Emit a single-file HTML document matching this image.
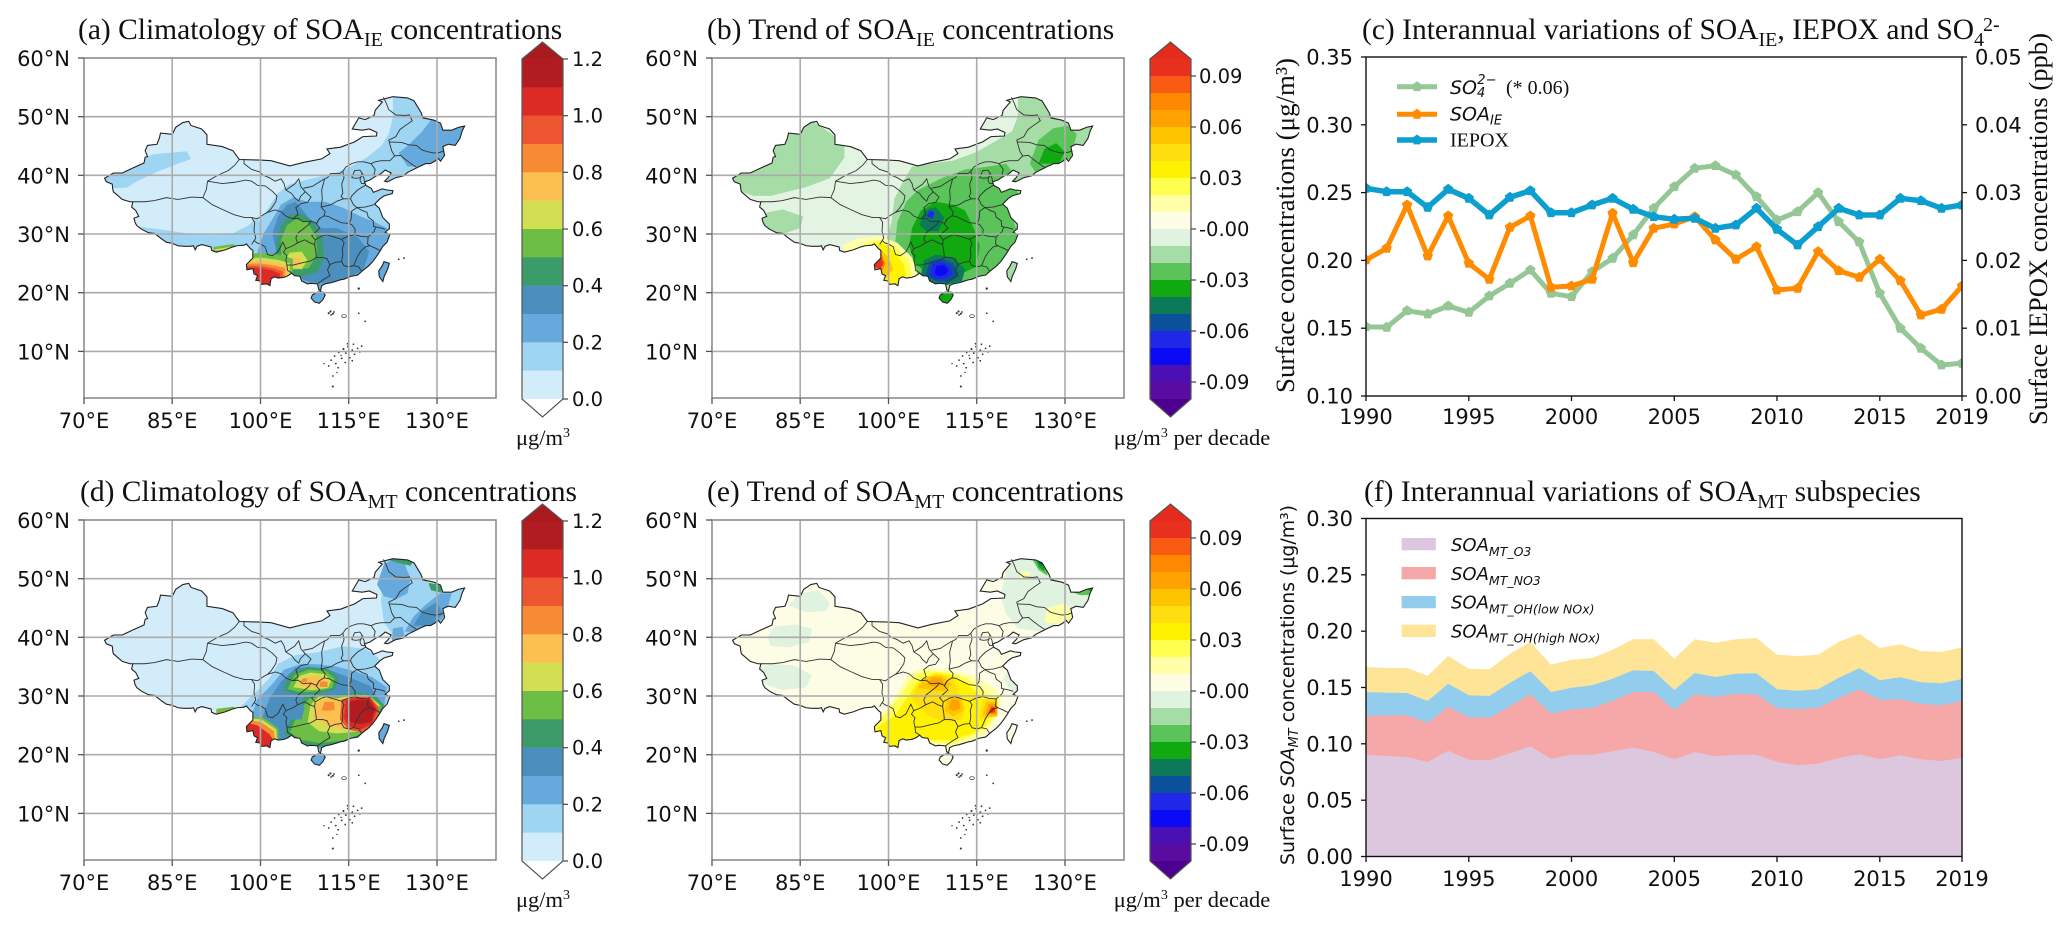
<!DOCTYPE html>
<html><head><meta charset="utf-8"><style>
html,body{margin:0;padding:0;background:#fff;}
svg{display:block;}
.t{font-family:"Liberation Serif","Times New Roman",serif;font-size:29.5px;fill:#111;}
.tk{font-family:"DejaVu Sans","Liberation Sans",sans-serif;font-size:21px;fill:#111;}
.cb{font-family:"DejaVu Sans","Liberation Sans",sans-serif;font-size:19.5px;fill:#111;}
.sf{font-family:"Liberation Serif","Times New Roman",serif;fill:#111;}
.ss{font-family:"DejaVu Sans","Liberation Sans",sans-serif;fill:#111;}
#cn,#prov polyline{vector-effect:non-scaling-stroke;}
</style></head><body>
<svg width="2067" height="932" viewBox="0 0 2067 932" xmlns="http://www.w3.org/2000/svg">
<defs>
<path id="cn" d="M73.5,39.5 L75,40.4 76.5,40.4 78.2,41.2 80.2,42.1 80.4,43.1 80.8,43.2 80.4,44.2 80.8,45.1 82.4,45.3 82.8,46.3 83,47.2 85,47 85.6,48.2 86.8,49 87.8,49.2 88.2,48.5 90,47.9 90.9,46.9 90.9,45.3 93.5,44.9 95.3,44.2 96.4,42.7 100,42.6 101.8,42.5 105,41.6 107.3,42.2 110.4,42.8 111.8,43.7 111.3,44.5 113.6,44.8 116,45.7 117.4,46.6 119.7,46.7 119.8,47.3 118.5,47.9 117.3,47.7 115.6,47.9 116.7,49.8 117.8,49.5 119.3,50.2 119.5,51.1 120.7,52.5 120.1,52.8 122.5,53.4 125,53.2 126.1,52.7 127.3,50.7 127.6,49.8 129.5,49.4 130.6,48.9 131,47.7 132.5,47.7 133.7,48.2 134.7,48.4 134.3,47.6 133.9,46.3 133.1,45.1 131.9,45.3 131,44.9 131.3,43.4 130.6,42.4 130.2,42.9 129.6,42.4 128.9,42 128.1,42 127,41.5 126.2,41.1 125,40.5 124.3,39.9 123,39.6 121.6,38.9 121.1,39 121.7,39.6 122.2,40.4 121.2,40.9 120.5,40.3 119.5,39.8 118.6,39.2 117.7,38.9 117.9,38.3 118.8,37.8 119.2,37.1 120.7,37.7 121.5,37.5 122.5,37.4 122.4,36.9 121,36.5 120.3,36 119.4,35.1 120.2,34.4 120.8,32.8 121.9,31.7 121.9,30.9 121.2,30.3 122,29.9 121.5,28.6 120.8,27.9 120.2,26.9 119.6,26 119,25.2 118.3,24.5 117.3,23.7 116.5,23 115.4,22.8 114.2,22.3 113.6,22.2 113,22 112,21.7 111,21.5 110.4,21.2 110.2,20.3 109.9,20.5 109.7,21.5 108.5,21.6 108,21.5 107,22 106.7,22.8 105.8,22.9 105.3,23.3 104.5,22.8 103.9,22.6 103,22.5 102.4,22.7 101.8,22.4 101.6,21.2 101.1,21.5 100.2,21.4 99.9,22 99.2,22.1 99.5,22.9 98.9,23.2 98.7,24.1 97.7,23.9 97.6,24.8 98.2,25.4 98.7,25.9 98.7,27.2 98.3,27.5 97.6,28.3 97.2,28.1 96,28 95.3,27.8 94,27.3 92.5,26.9 91.7,27.2 91.6,27.8 90,28.2 89.2,27.9 88.9,27.3 88.6,28 88.1,27.9 87,27.9 86,28 85,28.4 84,28.6 83,29.3 82,30.1 81,30.2 79.8,30.8 79,31.4 78.7,31.9 78.5,32.7 79.3,33 78.8,34 78.1,34.6 78.3,35.5 77.8,35.5 76.5,35.9 75.7,36.6 75,37.2 74.9,37.6 74.8,38.5 73.8,38.9 Z M108.6,19.1 L109.2,18.4 110,18.2 110.6,18.8 111,19.6 110.6,20.1 109.7,20.1 108.8,19.6 Z M121,25.3 L121.9,25 121.6,24 121,22.7 120.8,21.9 120.2,22.7 120.1,23.7 120.7,24.6 Z"/>
<clipPath id="cc"><use href="#cn"/></clipPath>
<g id="prov" fill="none">
<polyline points="78.3,35.5 80.3,35.5 82,35.7 84,36.2 86,35.9 88.3,36.3 90.2,36.2 90.8,37.6 91,39 92.7,40 94.5,40.8 95.6,41.7 96.4,42.7"/>
<polyline points="90.2,36.2 91.8,35 93.5,34.2 95.5,33.3 97.3,32.8 98.5,32.8 99,32 98.9,30.5 99.2,29.3 98.8,28.7 98.5,28.2"/>
<polyline points="91,39 93.5,38.6 95.5,38.8 97.5,39.2 98.5,39 99.5,38.3 100.8,38.2 102,37.3 102.8,36.5 102.6,35.5 101.8,34.3 101.2,33.7"/>
<polyline points="101.2,33.7 100.5,33.3 99.5,32.6 98.5,32.8"/>
<polyline points="101.2,33.7 102.5,34.1 103.5,33.8 104.4,33 105.5,32.6 106.4,33.3 106,34.5 106.9,35.2 108,35.4 108.6,36.3 107.6,37.2"/>
<polyline points="104.3,37.5 105.8,38.5 106.5,39.4 106.9,38 107.6,37.2 106.8,36.4 106.5,35.6 105.8,36.2 105.3,36.9 104.3,37.5"/>
<polyline points="97.2,42.8 97.2,42 98.5,41 99.8,40.6 100.5,40 101.5,39.6 102.5,39 103.5,39.4 104,38.6 104.3,37.5"/>
<polyline points="107.3,37.8 108.8,38.1 110.2,39 110.9,39.4 111.4,39.6 111.9,40.3 113.5,40.3 114,40.7 114.5,41.4 115.5,42 116.5,42.3 117.5,42.3 118.8,42 119.5,42.3 120.5,42.5 122,42.5 122.8,43.3 122.3,44.2 122,45.3 121.8,46 123,46.6 123.7,47.8 124.5,48.4 125.8,49.3 125.3,50.3 124.5,50.2 123,50.3 121.8,51.2 121.3,52.5 120.9,53.3"/>
<polyline points="121.9,45.7 124,45.6 125.2,45.2 126.5,45.1 127.5,44.3 128.5,44 129.5,43.8 130.5,43.9 131.2,44.2"/>
<polyline points="122.8,43.3 123.8,43.4 124.5,42.8 125.3,42.2 126,41.7 126.5,41.4"/>
<polyline points="118.8,42 119.5,41 119.3,40.2 119.7,39.9"/>
<polyline points="110.9,39.4 110.4,37.5 110.5,36 110.3,34.6"/>
<polyline points="114,40.7 114.2,39.6 113.8,38.5 114,37 113.7,36.4 114.1,36 113,35.6 112,35 110.3,34.6"/>
<polyline points="110.3,34.6 111,33.8 110.8,33.1 110,32.6 109.5,31.8 108.6,32.2 107.2,32.1 106.4,32.7 105.5,32.6"/>
<polyline points="117.8,38.3 116.5,37.5 115.5,36.5 115.3,36 114.1,36"/>
<polyline points="115.3,36 115.8,35 116.4,34.5 115.5,33.9 115.4,32.5 115,31.8 113.8,31.9 112.5,32.5 111.5,33 110.8,33.1"/>
<polyline points="119.3,35 117.8,34.6 116.4,34.5"/>
<polyline points="116.4,34.5 117.3,34 118.1,33.7 118.3,32.9 119.2,32.2 119.2,31.3 119.6,31.2 120.6,31 121.2,30.8"/>
<polyline points="119.6,31.2 119.3,30.4 118.3,29.5 117,29.6 116,29.9 116.1,30.8 115.5,31.6 115,31.8"/>
<polyline points="118.3,29.5 118.2,28.3 118.6,28 119.5,27.6 120.3,27.2"/>
<polyline points="118.6,28 117.8,27.8 117,27 116.4,26 116,25 115.8,24.6 116.7,24.4 117.2,23.6"/>
<polyline points="115.8,24.6 115,24.4 114.2,24.6 113.8,25.3 114,26.5 113.9,27.5 114.2,28.5 113.8,29.1 114.8,29.6 116,29.9"/>
<polyline points="113.8,29.1 112.5,29.5 111.2,29.9 110.3,29.6 109.3,29"/>
<polyline points="110,32.6 109.5,31.7 110.1,31 109.2,30.2 108.7,29.7 109.3,29"/>
<polyline points="109.3,29 109.2,28.2 109.4,27 109.5,26 110.5,26 111.3,25.8 111.8,24.8 112.8,25.2 113.8,25.3"/>
<polyline points="111.8,24.8 111.4,23.9 111.8,22.9 110.8,22.3 109.7,21.5"/>
<polyline points="109.5,26 108.5,25.4 107.5,25.2 106.3,24.9 105.5,24.7 104.5,24.7 104.6,23.8 105.4,23.3"/>
<polyline points="104.5,24.7 104.3,25.6 104.5,26.3 103.9,26.9 104.3,27.5 105.5,28 106.3,28.5 107.5,29 108.4,28.5 109.2,28.2"/>
<polyline points="104.3,27.5 103.8,28.6 103,27 102,26.3 101.2,26.5 100.8,27.8 100.2,28.2 99.4,28.5 98.9,28.9"/>
<polyline points="106.3,28.5 106,29.3 106.4,30.2 107.3,30.9 108.2,31.6 108.6,32.2"/>
<polyline points="115.5,39.6 116,40.8 116.9,40.9 117.4,40.2 117,39.6 116.2,39.5 115.5,39.6"/>
<polyline points="116.9,39.2 117.2,40.2 117.6,39.5 117.7,38.6 117.2,38.6 116.9,39.2"/>
</g>
<g id="isl" fill="#333">
<circle cx="111.6" cy="16.5" r="0.18"/><circle cx="111.9" cy="16.8" r="0.18"/><circle cx="112.3" cy="16.4" r="0.18"/><circle cx="112" cy="16.2" r="0.15"/><circle cx="112.5" cy="16.7" r="0.15"/>
<ellipse cx="114.2" cy="16" rx="0.4" ry="0.25" fill="none" stroke="#333" stroke-width="0.12"/>
<circle cx="116.7" cy="16.5" r="0.15"/><circle cx="117.8" cy="15.1" r="0.15"/><circle cx="116.7" cy="20.7" r="0.2"/>
<circle cx="112" cy="8.5" r="0.15"/><circle cx="112.6" cy="9.2" r="0.15"/><circle cx="113.3" cy="9.8" r="0.15"/><circle cx="114.1" cy="10.4" r="0.18"/><circle cx="114.5" cy="9.7" r="0.15"/><circle cx="114.9" cy="10.8" r="0.18"/><circle cx="115.6" cy="10.2" r="0.15"/><circle cx="116" cy="9.5" r="0.15"/><circle cx="115.2" cy="8.9" r="0.15"/><circle cx="113.8" cy="8.8" r="0.15"/><circle cx="114.4" cy="8.1" r="0.15"/><circle cx="115.6" cy="8.4" r="0.15"/><circle cx="116.5" cy="10.5" r="0.15"/><circle cx="117.2" cy="10.9" r="0.15"/><circle cx="112.8" cy="7.9" r="0.15"/><circle cx="111.6" cy="7.5" r="0.15"/><circle cx="113.2" cy="7.2" r="0.15"/><circle cx="114.8" cy="11.3" r="0.15"/><circle cx="115.8" cy="11.2" r="0.15"/><circle cx="116.9" cy="9.9" r="0.15"/><circle cx="113.7" cy="9.3" r="0.12"/><circle cx="115.1" cy="9.9" r="0.12"/><circle cx="112.3" cy="5.8" r="0.15"/><circle cx="112.3" cy="4" r="0.18"/><circle cx="113" cy="6.4" r="0.12"/><circle cx="110.8" cy="7.9" r="0.12"/><circle cx="123.5" cy="25.7" r="0.15"/><circle cx="124.4" cy="25.9" r="0.15"/>
</g>
<g id="mf">
<g stroke="#ababab" stroke-width="1.6">
<line x1="88.2" y1="0" x2="88.2" y2="340"/><line x1="176.5" y1="0" x2="176.5" y2="340"/><line x1="264.7" y1="0" x2="264.7" y2="340"/><line x1="353" y1="0" x2="353" y2="340"/>
<line x1="0" y1="58.7" x2="412" y2="58.7"/><line x1="0" y1="117.3" x2="412" y2="117.3"/><line x1="0" y1="176" x2="412" y2="176"/><line x1="0" y1="234.7" x2="412" y2="234.7"/><line x1="0" y1="293.4" x2="412" y2="293.4"/>
</g>
<rect x="0" y="0" width="412" height="340" fill="none" stroke="#8c8c8c" stroke-width="1.6"/>
<g stroke="#555" stroke-width="1.3">
<line x1="-6" y1="0" x2="0" y2="0"/><line x1="-6" y1="58.7" x2="0" y2="58.7"/><line x1="-6" y1="117.3" x2="0" y2="117.3"/><line x1="-6" y1="176" x2="0" y2="176"/><line x1="-6" y1="234.7" x2="0" y2="234.7"/><line x1="-6" y1="293.4" x2="0" y2="293.4"/>
<line x1="0" y1="340" x2="0" y2="346"/><line x1="88.2" y1="340" x2="88.2" y2="346"/><line x1="176.5" y1="340" x2="176.5" y2="346"/><line x1="264.7" y1="340" x2="264.7" y2="346"/><line x1="353" y1="340" x2="353" y2="346"/>
</g>
</g>
<g id="cbA">
<polygon points="522,59 542.5,42 563,59" fill="#a81a1e"/>
<rect x="522" y="59" width="41" height="28.6" fill="#b01c20"/>
<rect x="522" y="87.3" width="41" height="28.6" fill="#dc2b25"/>
<rect x="522" y="115.7" width="41" height="28.6" fill="#ec5530"/>
<rect x="522" y="144" width="41" height="28.6" fill="#f68b33"/>
<rect x="522" y="172.3" width="41" height="28.6" fill="#fbc050"/>
<rect x="522" y="200.7" width="41" height="28.6" fill="#d3de53"/>
<rect x="522" y="229" width="41" height="28.6" fill="#6cbe45"/>
<rect x="522" y="257.3" width="41" height="28.6" fill="#3c9c69"/>
<rect x="522" y="285.7" width="41" height="28.6" fill="#4a8fbd"/>
<rect x="522" y="314" width="41" height="28.6" fill="#66a9dc"/>
<rect x="522" y="342.3" width="41" height="28.6" fill="#9dd5f3"/>
<rect x="522" y="370.7" width="41" height="28.3" fill="#d3ecfa"/>
<polygon points="522,399 542.5,417 563,399" fill="#fff"/>
<polygon points="522,59 542.5,42 563,59 563,399 542.5,417 522,399" fill="none" stroke="#555" stroke-width="1.2"/>
<g stroke="#444" stroke-width="1.2"><line x1="563" y1="59" x2="568" y2="59"/><line x1="563" y1="115.7" x2="568" y2="115.7"/><line x1="563" y1="172.3" x2="568" y2="172.3"/><line x1="563" y1="229" x2="568" y2="229"/><line x1="563" y1="285.7" x2="568" y2="285.7"/><line x1="563" y1="342.3" x2="568" y2="342.3"/><line x1="563" y1="399" x2="568" y2="399"/></g>
</g>
<g id="cbB">
<polygon points="1150,59 1170.5,42 1191,59" fill="#e52a1e"/>
<rect x="1150" y="59" width="41" height="17.3" fill="#e8301e"/>
<rect x="1150" y="76" width="41" height="17.3" fill="#fb5a14"/>
<rect x="1150" y="93" width="41" height="17.3" fill="#ff8800"/>
<rect x="1150" y="110" width="41" height="17.3" fill="#ffa200"/>
<rect x="1150" y="127" width="41" height="17.3" fill="#ffc400"/>
<rect x="1150" y="144" width="41" height="17.3" fill="#ffde10"/>
<rect x="1150" y="161" width="41" height="17.3" fill="#fff200"/>
<rect x="1150" y="178" width="41" height="17.3" fill="#ffff50"/>
<rect x="1150" y="195" width="41" height="17.3" fill="#ffffa8"/>
<rect x="1150" y="212" width="41" height="17.3" fill="#fdfde6"/>
<rect x="1150" y="229" width="41" height="17.3" fill="#e0f2e0"/>
<rect x="1150" y="246" width="41" height="17.3" fill="#a6dca6"/>
<rect x="1150" y="263" width="41" height="17.3" fill="#5ac35a"/>
<rect x="1150" y="280" width="41" height="17.3" fill="#10aa10"/>
<rect x="1150" y="297" width="41" height="17.3" fill="#0c7a5a"/>
<rect x="1150" y="314" width="41" height="17.3" fill="#0b509a"/>
<rect x="1150" y="331" width="41" height="17.3" fill="#1e28e6"/>
<rect x="1150" y="348" width="41" height="17.3" fill="#0a0af5"/>
<rect x="1150" y="365" width="41" height="17.3" fill="#4b10b4"/>
<rect x="1150" y="382" width="41" height="17" fill="#5a0ca0"/>
<polygon points="1150,399 1170.5,417 1191,399" fill="#4b0090"/>
<polygon points="1150,59 1170.5,42 1191,59 1191,399 1170.5,417 1150,399" fill="none" stroke="#555" stroke-width="1.2"/>
<g stroke="#444" stroke-width="1.2"><line x1="1191" y1="76" x2="1196" y2="76"/><line x1="1191" y1="127" x2="1196" y2="127"/><line x1="1191" y1="178" x2="1196" y2="178"/><line x1="1191" y1="229" x2="1196" y2="229"/><line x1="1191" y1="280" x2="1196" y2="280"/><line x1="1191" y1="331" x2="1196" y2="331"/><line x1="1191" y1="382" x2="1196" y2="382"/></g>
</g>
<marker id="mG" viewBox="-6 -6 12 12" markerWidth="12" markerHeight="12" markerUnits="userSpaceOnUse" refX="0" refY="0"><polygon points="0,-5.5 5.2,-1.7 3.2,4.4 -3.2,4.4 -5.2,-1.7" fill="#95c695"/></marker>
<marker id="mO" viewBox="-6 -6 12 12" markerWidth="12" markerHeight="12" markerUnits="userSpaceOnUse" refX="0" refY="0"><polygon points="0,-5.5 5.2,-1.7 3.2,4.4 -3.2,4.4 -5.2,-1.7" fill="#ff8c00"/></marker>
<marker id="mB" viewBox="-6 -6 12 12" markerWidth="12" markerHeight="12" markerUnits="userSpaceOnUse" refX="0" refY="0"><polygon points="0,-5.5 5.2,-1.7 3.2,4.4 -3.2,4.4 -5.2,-1.7" fill="#0c9ecf"/></marker>
<clipPath id="axc"><rect x="1366" y="57" width="596" height="339"/></clipPath>
</defs>

<!-- ===== Panel (a) ===== -->
<text class="t" x="78" y="39">(a) Climatology of SOA<tspan dy="7" font-size="20">IE</tspan><tspan dy="-7"> concentrations</tspan></text>
<g transform="translate(84,58) scale(5.883,-5.867) translate(-70,-60)">
<g clip-path="url(#cc)">
<rect x="60" y="0" width="80" height="60" fill="#d3ecfa"/>
<polygon fill="#9dd5f3" points="73,39 75,40.4 78,42 81.8,43.6 87.5,44.1 88.2,42.8 86,42 82.4,40.6 79,39 77.3,37.9 74.5,37.8"/>
<polygon fill="#9dd5f3" points="77,32 79,31.3 83,30.8 87.5,30.1 92,29.8 95.5,30.2 98,31.5 99.5,33 100,30 99,26 77,26"/>
<polygon fill="#9dd5f3" points="97.5,28 99,31 101,34 103,37 105,38.5 108,39.3 112,40.2 115,41.3 118,43 120.5,45 121.8,47 122.5,50 122.5,53.5 136,54 136,17 97.5,17"/>
<polygon fill="#66a9dc" points="99.5,27 100.5,30 102,32.5 103.5,35 105.5,36.2 108,35.5 111,35.5 114,34.5 117,33 119.5,32 121.5,31 122.5,28 120,24 116,21 111.5,17.5 108,17.5 103,21 100.5,24.5"/>
<polygon fill="#66a9dc" points="119.5,21.5 122.5,21.5 122.5,25.8 119.5,25.8"/>
<polygon fill="#66a9dc" points="123.5,43.8 125.5,45.5 127.5,47.5 129,49.5 133,48.8 135.5,48.5 135.5,44 131,42.5 128,41.5 125,41.5"/>
<polygon fill="#4a8fbd" points="102,30 103,33 104.5,35 106,35.5 108,33 110,31 113,31 116.5,29.5 118.5,27 117.5,24 115,22.5 111,21.5 108.5,21.8 105,23 103,26"/>
<polygon fill="#3c9c69" points="102.8,29 103.5,31.5 105,33.3 107,33.5 109,32 110.5,29.5 110.8,26 109.8,23.5 107,22.8 104,23 102.5,25.5"/>
<polygon fill="#6cbe45" points="103.5,29 104.5,31.5 106,32.5 108,32 109.5,29.5 109.6,26.5 108.2,24.2 105,23.8 103.5,26"/>
<polygon fill="#d3de53" points="104.2,24.2 104,25.5 105,26.8 107,27 108,25.5 107,24"/>
<polygon fill="#fbc050" points="105,24.6 105.3,25.8 106.5,26 107,25 106,24.4"/>
<polygon fill="#6cbe45" points="96.5,26.4 100,26.8 103,26.5 105.5,25.8 105.5,20.5 96.5,20.5"/>
<polygon fill="#d3de53" points="96.5,25.7 100,26 103,25.6 105,25 105,20.5 96.5,20.5"/>
<polygon fill="#fbc050" points="96.5,25.3 100,25.4 103,25 104.6,24.6 104.6,20.5 96.5,20.5"/>
<polygon fill="#f68b33" points="96.5,24.9 100,25 102.5,24.6 104.2,24.2 104.2,20.5 96.5,20.5"/>
<polygon fill="#ec5530" points="96.5,24.6 100,24.6 102.5,24.1 103.8,23.6 103.8,20.5 96.5,20.5"/>
<polygon fill="#dc2b25" points="96.5,24.3 100,24.2 102,23.8 103.3,23.2 103.3,20.5 96.5,20.5"/>
<polygon fill="#6cbe45" points="92,27.8 95.5,28.3 96,27.5 95.5,26.5 92,26.5"/>
<polygon fill="#d3de53" points="92.3,27.4 94.8,27.8 95,26.5 92.3,26.5"/>
<polygon fill="#f68b33" points="92.4,27.2 94,27.3 94.2,26.5 92.4,26.5"/>
<polygon fill="#dc2b25" points="92.5,27.05 93.6,27.1 93.7,26.5 92.5,26.5"/>
</g>
<use href="#cn" fill="none" stroke="#222" stroke-width="1.1"/>
<use href="#prov" stroke="#333" stroke-width="0.9"/>
<use href="#isl"/>
</g>
<use href="#mf" x="84" y="58"/>
<use href="#cbA"/>

<!-- ===== Panel (b) ===== -->
<text class="t" x="707" y="39">(b) Trend of SOA<tspan dy="7" font-size="20">IE</tspan><tspan dy="-7"> concentrations</tspan></text>
<g transform="translate(712,58) scale(5.883,-5.867) translate(-70,-60)">
<g clip-path="url(#cc)">
<rect x="60" y="0" width="80" height="60" fill="#e4f4e2"/>
<polygon fill="#a6dca6" points="73,41 80,45 86,50 89,48 92.5,45.5 92.5,43 90,39.5 86,38 80,36.5 77,36.5 73,38"/>
<polygon fill="#a6dca6" points="78.5,33.5 82,34.2 85.5,33 85,31 82,30 79,30.5"/>
<polygon fill="#a6dca6" points="99,27 100.5,32 101,36 102.5,39 104,41.5 107,42 111,42.5 115,44 118.5,46 121,47.5 122,50 122,53.5 136,54 136,17 99,17"/>
<polygon fill="#5ac35a" points="101,27 101.5,32 103,35.5 105,37.5 109,39.5 113,41 117,41.5 120,42 121.5,40 122,37 121,33 122,30 120,25 114,22 108,21.5 104,23 102,25"/>
<polygon fill="#5ac35a" points="124,42 125.5,46 128,48 130.5,48.5 132,47 131,43 128,41.5 125,40.5"/>
<polygon fill="#10aa10" points="103.5,28 104,31 105.5,34 108,35.5 111,35 113,34 114.5,31 115.5,28 115,24.5 113,23.5 110,22.5 107,23 104.5,25"/>
<polygon fill="#10aa10" points="125.5,42 126.5,44.5 128.5,45.5 130,44 129,42"/>
<polygon fill="#10aa10" points="108,17.5 111.5,17.5 111.5,20.5 108,20.5"/>
<polygon fill="#0c7a5a" points="105.5,22.8 106,25.5 108,26.5 111,26 113,24 112.5,22 110,21.3 107,21.6"/>
<polygon fill="#0b509a" points="106.3,23 107,25.3 109,25.8 111,25 111.8,23 110,21.8 108,22"/>
<polygon fill="#1e28e6" points="107,23 107.5,25 109,25.3 110.5,24.5 110.8,23 109.5,22.3 108,22.3"/>
<polygon fill="#0a0af5" points="107.8,23.3 108.2,24.6 109.5,24.7 110.2,23.8 109.6,23 108.5,22.8"/>
<polygon fill="#0c7a5a" points="105.3,31.5 106,34 108,34.6 109.5,32.8 108.5,30.5 106.5,30.5"/>
<polygon fill="#1e28e6" points="106.5,33 107,34 107.8,33.7 107.5,32.6"/>
<polygon fill="#ffffa8" points="92,28 95,29.3 98.5,29.6 101.5,28.5 104,26 105,23 101.5,21 97,22.5"/>
<polygon fill="#ffff50" points="96,28.5 98.7,29 101,28 103.5,25.5 104,23 101,21 97,22.5"/>
<polygon fill="#fff200" points="97,28 99,28.3 100.5,27.5 102.5,25 103,23 101,21 97.5,22"/>
<polygon fill="#ffc400" points="97,27.2 98.8,27.3 100,26 100.8,24 99.5,22.5 97.5,23.5"/>
<polygon fill="#ff8800" points="97,26.5 98.8,26.6 99.5,25 99,23.8 97.5,24"/>
<polygon fill="#e8301e" points="97,26.3 98.5,26.4 99.2,25 98.6,24.1 97.5,24.4"/>
</g>
<use href="#cn" fill="none" stroke="#222" stroke-width="1.1"/>
<use href="#prov" stroke="#333" stroke-width="0.9"/>
<use href="#isl"/>
</g>
<use href="#mf" x="712" y="58"/>
<use href="#cbB"/>

<!-- ===== Panel (d) ===== -->
<text class="t" x="80" y="501">(d) Climatology of SOA<tspan dy="7" font-size="20">MT</tspan><tspan dy="-7"> concentrations</tspan></text>
<g transform="translate(84,520) scale(5.883,-5.867) translate(-70,-60)">
<g clip-path="url(#cc)">
<rect x="60" y="0" width="80" height="60" fill="#d3ecfa"/>
<polygon fill="#9dd5f3" points="96.5,28 99,30.5 101.5,33 103,35.5 106,37 110,37.5 114,38.5 118,38 120,36.5 122,33 122.5,28 119,23 112,17.5 108,17.5 105,21.5 100,21 97,23"/>
<polygon fill="#9dd5f3" points="120.5,46 121,53.5 127,53.5 128.5,49 131,48 135.5,48.5 135.5,42 131,41.5 126,40 122.5,40.5 121,42.5"/>
<polygon fill="#66a9dc" points="119.8,49 121,52.5 123,53.5 124.5,52.5 125.5,50 125,47.5 123,46.5 121,47"/>
<polygon fill="#66a9dc" points="124.5,41 126,43.5 128,45.5 130.5,47.5 132.5,47.5 131.5,44 130,42 127,40.8"/>
<polygon fill="#66a9dc" points="122.3,39 122.5,41.5 124.2,41.8 124.5,39.8"/>
<polygon fill="#4a8fbd" points="126,42 127.5,44.5 130,46 131,44 129,42"/>
<polygon fill="#3c9c69" points="121.5,53.3 124,53.6 126,53 125.5,52.2 123,52.8"/>
<polygon fill="#3c9c69" points="128.5,49.3 130.8,48.9 130.8,47.6 129,48"/>
<polygon fill="#66a9dc" points="98,25.5 99.5,29.5 102,32 104,34.5 107,35.5 110,35.4 113,35 116,34.2 119,33.2 121.5,31.5 121,28 118,24 112,20.5 106,21.8 101,22 98,23.5"/>
<polygon fill="#66a9dc" points="108,17.5 111.5,17.5 111.5,20.5 108,20.5"/>
<polygon fill="#66a9dc" points="119.5,21.5 122.5,21.5 122.5,25.8 119.5,25.8"/>
<polygon fill="#4a8fbd" points="100,25.5 101.5,29.5 103.5,32.5 106,34.8 109,34.9 112,34.3 115,33.2 118.5,31.8 120.5,29 118.5,25 114,22.3 109,21.8 104,22.3 100.5,23.5"/>
<!-- northern hotspot (Chongqing / W Hubei / S Shaanxi) -->
<polygon fill="#3c9c69" points="103.8,31 105,33.8 108,35 111.5,34.6 113.2,33.2 112.8,31.2 110,30.4 106.5,30.2"/>
<polygon fill="#6cbe45" points="104.6,31.2 105.8,33.6 108.2,34.5 111.2,34.2 112.6,33 112.2,31.4 109.8,30.8 106.8,30.6"/>
<polygon fill="#d3de53" points="105.6,31.5 106.6,33.4 108.5,34 111,33.7 112,32.6 111.5,31.4 108.8,31 "/>
<polygon fill="#fbc050" points="106.5,31.8 107.4,33.1 109.5,33.4 111.3,32.8 111.3,31.6 108.8,31.3"/>
<polygon fill="#f68b33" points="110,31.6 110.2,32.5 111.4,32.4 111.4,31.5"/>
<polygon fill="#f68b33" points="106.8,32.4 107.2,33 108,33 107.8,32.3"/>
<!-- southern hotspot -->
<polygon fill="#3c9c69" points="104,23.5 105.8,27.5 107.5,29.8 110,30.3 113,30.1 116,30.6 119,30.2 121,28.5 119.5,25 117,23 114,21.8 110,21.3 106.5,21.8"/>
<polygon fill="#6cbe45" points="105,23.8 106.5,27.3 108.2,29.5 110.5,30 113,29.8 116,30.3 118.8,30 120.6,28.3 119.2,25.2 116.8,23.4 114,22.4 110,22 107,22.5"/>
<polygon fill="#4a8fbd" points="104,26 104.5,28.5 106.5,29.5 107.5,28 107,26"/>
<polygon fill="#d3de53" points="108,25.5 108.5,28.5 110,30 113,29.6 115,30 118,30.2 120.2,28.5 119,25.5 117,24 113,23.6 110,24"/>
<polygon fill="#fbc050" points="109,26.5 109.5,29 111.5,29.6 113.5,29.4 116,30 118.5,29.9 120,28 118.8,25 116,24 113,24.6 111,25.2"/>
<polygon fill="#f68b33" points="110.4,27.5 110.9,29 112.5,29 112.6,27.6"/>
<polygon fill="#ec5530" points="113.5,26 113.8,29.4 116,29.9 118.5,29.9 120.2,28 119.5,25 117.5,23.8 115,24.2"/>
<polygon fill="#dc2b25" points="114.2,26.2 114.5,29.3 116.5,29.8 118.8,29.5 119.8,27.8 119,25.3 117,24.3 115,24.8"/>
<polygon fill="#b01c20" points="114.7,26.5 115,29 116.8,29.4 118.5,29.3 119.5,27.8 118.8,25.6 117,25.2 115.4,25.5"/>
<!-- Yunnan SW -->
<polygon fill="#6cbe45" points="97,26.6 100.5,26.3 103,24.5 103.2,21 97,21"/>
<polygon fill="#d3de53" points="97,26.3 100.2,26 102.7,24.3 102.9,21 97,21"/>
<polygon fill="#f68b33" points="97,26 100,25.6 102.3,24 102.6,21 97,21"/>
<polygon fill="#dc2b25" points="97,25.6 99.5,25 101.5,23.5 102,22.8 102,21 97,21"/>
<polygon fill="#6cbe45" points="92.5,27.8 95.5,28.2 95.8,26.5 92.5,26.5"/>
<polygon fill="#f68b33" points="93,27.3 94.8,27.6 95,26.5 93,26.5"/>
</g>
<use href="#cn" fill="none" stroke="#222" stroke-width="1.1"/>
<use href="#prov" stroke="#333" stroke-width="0.9"/>
<use href="#isl"/>
</g>
<use href="#mf" x="84" y="520"/>
<use href="#cbA" y="462"/>

<!-- ===== Panel (e) ===== -->
<text class="t" x="707" y="501">(e) Trend of SOA<tspan dy="7" font-size="20">MT</tspan><tspan dy="-7"> concentrations</tspan></text>
<g transform="translate(712,520) scale(5.883,-5.867) translate(-70,-60)">
<g clip-path="url(#cc)">
<rect x="60" y="0" width="80" height="60" fill="#fdfde6"/>
<polygon fill="#e0f2e0" points="79.5,40 80.5,41.8 84,42.2 87,41.5 86.5,39.2 83,38.3 80,38.5"/>
<polygon fill="#e0f2e0" points="83,45.5 85,47.5 88,48 90,46 89.5,44.5 86,44.3"/>
<polygon fill="#e0f2e0" points="77.5,34.5 80,35.5 84,35.2 87,33.5 86,31.5 82,31 79,32"/>
<polygon fill="#e0f2e0" points="119,47 120.5,53.5 126,53.8 131,48.5 135.5,48.6 133,45 130,43 126,41 122,41.5 120,44"/>
<polygon fill="#e0f2e0" points="119.5,33 120.5,34.5 122.5,32 122.5,29.5 121,30.5"/>
<polygon fill="#ffffa8" points="126.5,42.5 127,45 130,45.8 131.5,44 130.5,42.3"/>
<polygon fill="#ffffa8" points="122.3,50 122.5,51.3 124,51.2 124,50"/>
<polygon fill="#5ac35a" points="124.3,53.6 126.8,53.5 127,50.5 125.5,51.5"/>
<polygon fill="#10aa10" points="125,53.4 126.5,53.2 126.5,51.2 125.5,52"/>
<polygon fill="#0b509a" points="125.4,53.3 126.1,53.2 126.1,52.2 125.6,52.5"/>
<polygon fill="#5ac35a" points="131.5,47.6 135,48.6 134.5,47.2 132.5,47.2"/>
<polygon fill="#10aa10" points="133.5,48.2 135,48.6 134.6,47.8"/>
<polygon fill="#ffffa8" points="97,25.5 99.5,27.5 101.5,30.5 103.5,33.8 106,34.8 110,34.5 114,33.5 117,32 119.5,30 118,25.5 116,23 111,20.5 105,21.8 100,21 97,22"/>
<polygon fill="#ffff50" points="97.5,25 100,27.5 102,30 104,33 106,34.3 110,34 113.5,33 116,31 118.5,29.5 117.5,25.5 115,23.5 111,21.8 106,22.3 101,21 97.5,22.5"/>
<polygon fill="#fff200" points="98,24.7 101,26.5 103,29.5 105,32.5 108,34 111,33.5 113.5,32 115.5,30 117.5,28.5 116.5,25 114,23.5 110.5,22.5 106,22.5 101,21 98,22.5"/>
<polygon fill="#ffde10" points="104,29.5 105,32 108,33.8 111,33 112,30.5 113,28 112.5,26 110,25.5 107,26.5"/>
<polygon fill="#ffde10" points="115.5,26 116,29.5 118.5,29.5 118.5,26.5"/>
<polygon fill="#ffc400" points="105,31.5 106.5,33.3 109,33.5 110.8,32 109.5,30.8 107,31"/>
<polygon fill="#ffc400" points="109.5,27.5 110.2,30 112.3,30 112.8,27.5 111,26.5"/>
<polygon fill="#ffc400" points="116,26.5 116.5,29 118.5,29 118.5,26.5"/>
<polygon fill="#ffa200" points="106.5,32 107.5,33.2 109,33 109.5,32 108,31.5"/>
<polygon fill="#ffa200" points="110.2,28 110.8,29.5 112,29.3 112.2,27.8 111,27.4"/>
<polygon fill="#ffa200" points="116.5,26.8 117,28.7 118.4,28.7 118.5,26.8"/>
<polygon fill="#ff8800" points="116.8,27 117.3,28.4 118.3,28.3 118.3,27"/>
<polygon fill="#e8301e" points="117,27.1 117.5,28.1 118.2,28 118,27.2"/>
</g>
<use href="#cn" fill="none" stroke="#222" stroke-width="1.1"/>
<use href="#prov" stroke="#333" stroke-width="0.9"/>
<use href="#isl"/>
</g>
<use href="#mf" x="712" y="520"/>
<use href="#cbB" y="462"/>

<!-- map tick labels -->
<g class="tk" text-anchor="end">
<text x="70" y="66">60°N</text><text x="70" y="124.7">50°N</text><text x="70" y="183.3">40°N</text><text x="70" y="242">30°N</text><text x="70" y="300.7">20°N</text><text x="70" y="359.4">10°N</text>
<text x="698" y="66">60°N</text><text x="698" y="124.7">50°N</text><text x="698" y="183.3">40°N</text><text x="698" y="242">30°N</text><text x="698" y="300.7">20°N</text><text x="698" y="359.4">10°N</text>
<text x="70" y="528">60°N</text><text x="70" y="586.7">50°N</text><text x="70" y="645.3">40°N</text><text x="70" y="704">30°N</text><text x="70" y="762.7">20°N</text><text x="70" y="821.4">10°N</text>
<text x="698" y="528">60°N</text><text x="698" y="586.7">50°N</text><text x="698" y="645.3">40°N</text><text x="698" y="704">30°N</text><text x="698" y="762.7">20°N</text><text x="698" y="821.4">10°N</text>
</g>
<g class="tk" text-anchor="middle">
<text x="84" y="428">70°E</text><text x="172.2" y="428">85°E</text><text x="260.5" y="428">100°E</text><text x="348.7" y="428">115°E</text><text x="437" y="428">130°E</text>
<text x="712" y="428">70°E</text><text x="800.2" y="428">85°E</text><text x="888.5" y="428">100°E</text><text x="976.7" y="428">115°E</text><text x="1065" y="428">130°E</text>
<text x="84" y="890">70°E</text><text x="172.2" y="890">85°E</text><text x="260.5" y="890">100°E</text><text x="348.7" y="890">115°E</text><text x="437" y="890">130°E</text>
<text x="712" y="890">70°E</text><text x="800.2" y="890">85°E</text><text x="888.5" y="890">100°E</text><text x="976.7" y="890">115°E</text><text x="1065" y="890">130°E</text>
</g>
<!-- colorbar labels -->
<g class="cb">
<text x="572" y="66">1.2</text><text x="572" y="122.7">1.0</text><text x="572" y="179.3">0.8</text><text x="572" y="236">0.6</text><text x="572" y="292.7">0.4</text><text x="572" y="349.3">0.2</text><text x="572" y="406">0.0</text>
<text x="572" y="528">1.2</text><text x="572" y="584.7">1.0</text><text x="572" y="641.3">0.8</text><text x="572" y="698">0.6</text><text x="572" y="754.7">0.4</text><text x="572" y="811.3">0.2</text><text x="572" y="868">0.0</text>
<text x="1199" y="83">0.09</text><text x="1199" y="134">0.06</text><text x="1199" y="185">0.03</text><text x="1199" y="236">-0.00</text><text x="1199" y="287">-0.03</text><text x="1199" y="338">-0.06</text><text x="1199" y="389">-0.09</text>
<text x="1199" y="545">0.09</text><text x="1199" y="596">0.06</text><text x="1199" y="647">0.03</text><text x="1199" y="698">-0.00</text><text x="1199" y="749">-0.03</text><text x="1199" y="800">-0.06</text><text x="1199" y="851">-0.09</text>
</g>
<g class="sf" font-size="22.5" text-anchor="middle">
<text x="543" y="445">μg/m<tspan dy="-8" font-size="14">3</tspan></text>
<text x="543" y="907">μg/m<tspan dy="-8" font-size="14">3</tspan></text>
<text x="1192" y="445">μg/m<tspan dy="-8" font-size="14">3</tspan><tspan dy="8"> per decade</tspan></text>
<text x="1192" y="907">μg/m<tspan dy="-8" font-size="14">3</tspan><tspan dy="8"> per decade</tspan></text>
</g>

<!-- ===== Panel (c) ===== -->
<text class="t" x="1362" y="39">(c) Interannual variations of SOA<tspan dy="7" font-size="20">IE</tspan><tspan dy="-7">, IEPOX and SO</tspan><tspan dy="7" font-size="20">4</tspan><tspan dx="-1" dy="-15" font-size="20">2-</tspan></text>
<g clip-path="url(#axc)" fill="none" stroke-linejoin="round">
<polyline stroke="#95c695" stroke-width="5" marker-start="url(#mG)" marker-mid="url(#mG)" marker-end="url(#mG)" points="1366,326.7 1386.6,327.3 1407.1,310.7 1427.7,314 1448.2,306 1468.8,312.3 1489.3,296 1509.9,283.3 1530.4,270 1551,293.3 1571.5,296.7 1592.1,271.7 1612.6,258.3 1633.2,235 1653.7,208.3 1674.3,186.7 1694.8,168.3 1715.4,165.7 1735.9,175 1756.5,196.7 1777,220 1797.6,211.7 1818.1,192.7 1838.7,221.7 1859.2,242 1879.8,293.3 1900.4,328.3 1920.9,348.3 1941.5,365 1962,363.3"/>
<polyline stroke="#ff8c00" stroke-width="5" marker-start="url(#mO)" marker-mid="url(#mO)" marker-end="url(#mO)" points="1366,260 1386.6,248.3 1407.1,205 1427.7,256 1448.2,216 1468.8,263.3 1489.3,279.3 1509.9,227.3 1530.4,216 1551,287.3 1571.5,286 1592.1,279.3 1612.6,213.3 1633.2,262.7 1653.7,228.3 1674.3,224 1694.8,216.7 1715.4,240 1735.9,259.3 1756.5,246.7 1777,290 1797.6,288.3 1818.1,251.7 1838.7,270.7 1859.2,277.3 1879.8,259.3 1900.4,280.7 1920.9,315 1941.5,309.3 1962,286"/>
<polyline stroke="#0c9ecf" stroke-width="5.5" marker-start="url(#mB)" marker-mid="url(#mB)" marker-end="url(#mB)" points="1366,188.3 1386.6,191.7 1407.1,191.7 1427.7,207.3 1448.2,189.3 1468.8,198.3 1489.3,215 1509.9,197.3 1530.4,190.7 1551,212.7 1571.5,212.7 1592.1,205 1612.6,198.3 1633.2,209.3 1653.7,216.7 1674.3,219.3 1694.8,218.3 1715.4,228.3 1735.9,225 1756.5,208.3 1777,229.3 1797.6,245 1818.1,226.7 1838.7,208.3 1859.2,215 1879.8,215 1900.4,198.3 1920.9,200.7 1941.5,208.3 1962,205"/>
</g>
<rect x="1366" y="57" width="596" height="339" fill="none" stroke="#111" stroke-width="1.4"/>
<g stroke="#111" stroke-width="1.3">
<line x1="1361" y1="57" x2="1366" y2="57"/><line x1="1361" y1="124.8" x2="1366" y2="124.8"/><line x1="1361" y1="192.6" x2="1366" y2="192.6"/><line x1="1361" y1="260.4" x2="1366" y2="260.4"/><line x1="1361" y1="328.2" x2="1366" y2="328.2"/><line x1="1361" y1="396" x2="1366" y2="396"/>
<line x1="1962" y1="57" x2="1967" y2="57"/><line x1="1962" y1="124.8" x2="1967" y2="124.8"/><line x1="1962" y1="192.6" x2="1967" y2="192.6"/><line x1="1962" y1="260.4" x2="1967" y2="260.4"/><line x1="1962" y1="328.2" x2="1967" y2="328.2"/><line x1="1962" y1="396" x2="1967" y2="396"/>
<line x1="1366" y1="396" x2="1366" y2="401"/><line x1="1468.8" y1="396" x2="1468.8" y2="401"/><line x1="1571.5" y1="396" x2="1571.5" y2="401"/><line x1="1674.3" y1="396" x2="1674.3" y2="401"/><line x1="1777" y1="396" x2="1777" y2="401"/><line x1="1879.8" y1="396" x2="1879.8" y2="401"/><line x1="1962" y1="396" x2="1962" y2="401"/>
</g>
<g class="tk" text-anchor="end">
<text x="1353" y="64.5">0.35</text><text x="1353" y="132.3">0.30</text><text x="1353" y="200.1">0.25</text><text x="1353" y="267.9">0.20</text><text x="1353" y="335.7">0.15</text><text x="1353" y="403.5">0.10</text>
</g>
<g class="tk">
<text x="1975" y="64.5">0.05</text><text x="1975" y="132.3">0.04</text><text x="1975" y="200.1">0.03</text><text x="1975" y="267.9">0.02</text><text x="1975" y="335.7">0.01</text><text x="1975" y="403.5">0.00</text>
</g>
<g class="tk" text-anchor="middle">
<text x="1366" y="424">1990</text><text x="1468.8" y="424">1995</text><text x="1571.5" y="424">2000</text><text x="1674.3" y="424">2005</text><text x="1777" y="424">2010</text><text x="1879.8" y="424">2015</text><text x="1962" y="424">2019</text>
</g>
<text class="sf" font-size="26.5" text-anchor="middle" transform="translate(1294,225.5) rotate(-90)" textLength="335" lengthAdjust="spacingAndGlyphs">Surface concentrations (μg/m³)</text>
<text class="sf" font-size="26.5" text-anchor="middle" transform="translate(2047,229) rotate(-90)" textLength="392" lengthAdjust="spacingAndGlyphs">Surface IEPOX concentrations (ppb)</text>
<!-- legend (c) -->
<polyline points="1397,86.7 1417,86.7 1437,86.7" fill="none" stroke="#95c695" stroke-width="5" marker-mid="url(#mG)"/>
<polyline points="1397,114.3 1417,114.3 1437,114.3" fill="none" stroke="#ff8c00" stroke-width="5" marker-mid="url(#mO)"/>
<polyline points="1397,140 1417,140 1437,140" fill="none" stroke="#0c9ecf" stroke-width="5.5" marker-mid="url(#mB)"/>
<text class="ss" font-size="19" font-style="italic" x="1450" y="94">SO<tspan dy="3" font-size="13">4</tspan><tspan dx="-8" dy="-13" font-size="13">2−</tspan></text>
<text class="sf" font-size="20" x="1506" y="94">(* 0.06)</text>
<text class="ss" font-size="19" font-style="italic" x="1450" y="120.7">SOA<tspan dy="4" font-size="13">IE</tspan></text>
<text class="sf" font-size="20" x="1450" y="146.7">IEPOX</text>

<!-- ===== Panel (f) ===== -->
<text class="t" x="1364" y="501">(f) Interannual variations of SOA<tspan dy="7" font-size="20">MT</tspan><tspan dy="-7"> subspecies</tspan></text>
<polygon fill="#fde497" points="1366,667 1386.6,668 1407.1,668 1427.7,675.7 1448.2,656 1468.8,668.7 1489.3,669.3 1509.9,653.7 1530.4,642 1551,664.7 1571.5,659.7 1592.1,658 1612.6,649.7 1633.2,639.3 1653.7,639.3 1674.3,658.7 1694.8,639.3 1715.4,642.7 1735.9,639.3 1756.5,638 1777,654.7 1797.6,656 1818.1,654.7 1838.7,642 1859.2,633.7 1879.8,648 1900.4,644.3 1920.9,651 1941.5,652 1962,647.3 1962,856.5 1366,856.5"/>
<polygon fill="#93cdee" points="1366,692 1386.6,692.7 1407.1,693 1427.7,701 1448.2,683.7 1468.8,695.3 1489.3,696 1509.9,682.7 1530.4,671.3 1551,692 1571.5,687.7 1592.1,685.3 1612.6,678.7 1633.2,670.3 1653.7,671 1674.3,690 1694.8,673 1715.4,677 1735.9,673.7 1756.5,673.3 1777,689.3 1797.6,690.7 1818.1,689.3 1838.7,677.7 1859.2,668.3 1879.8,680.3 1900.4,677.3 1920.9,682.3 1941.5,683.3 1962,679 1962,856.5 1366,856.5"/>
<polygon fill="#f6a8a8" points="1366,716 1386.6,715.3 1407.1,715.3 1427.7,722.7 1448.2,707 1468.8,717.3 1489.3,717.7 1509.9,706.3 1530.4,694.3 1551,713.7 1571.5,709.3 1592.1,708 1612.6,700.7 1633.2,692 1653.7,692 1674.3,710.3 1694.8,694.3 1715.4,697 1735.9,693.7 1756.5,694.3 1777,708 1797.6,709.3 1818.1,707.7 1838.7,698 1859.2,689.3 1879.8,700 1900.4,699.3 1920.9,703.7 1941.5,705.3 1962,700.7 1962,856.5 1366,856.5"/>
<polygon fill="#dcc7df" points="1366,754.7 1386.6,756 1407.1,757 1427.7,762 1448.2,750.7 1468.8,759.7 1489.3,760.3 1509.9,753.3 1530.4,746.3 1551,758.7 1571.5,754.7 1592.1,754.7 1612.6,751.3 1633.2,747.7 1653.7,752 1674.3,759.3 1694.8,752 1715.4,756.3 1735.9,754.7 1756.5,754.7 1777,762 1797.6,765.3 1818.1,763.7 1838.7,758 1859.2,754.3 1879.8,759.3 1900.4,755.3 1920.9,759.3 1941.5,761 1962,757.7 1962,856.5 1366,856.5"/>
<rect x="1366" y="518.5" width="596" height="338" fill="none" stroke="#111" stroke-width="1.4"/>
<g stroke="#111" stroke-width="1.3">
<line x1="1361" y1="518.5" x2="1366" y2="518.5"/><line x1="1361" y1="574.8" x2="1366" y2="574.8"/><line x1="1361" y1="631.2" x2="1366" y2="631.2"/><line x1="1361" y1="687.5" x2="1366" y2="687.5"/><line x1="1361" y1="743.8" x2="1366" y2="743.8"/><line x1="1361" y1="800.2" x2="1366" y2="800.2"/><line x1="1361" y1="856.5" x2="1366" y2="856.5"/>
<line x1="1366" y1="856.5" x2="1366" y2="862"/><line x1="1468.8" y1="856.5" x2="1468.8" y2="862"/><line x1="1571.5" y1="856.5" x2="1571.5" y2="862"/><line x1="1674.3" y1="856.5" x2="1674.3" y2="862"/><line x1="1777" y1="856.5" x2="1777" y2="862"/><line x1="1879.8" y1="856.5" x2="1879.8" y2="862"/><line x1="1962" y1="856.5" x2="1962" y2="862"/>
</g>
<g class="tk" text-anchor="end">
<text x="1353" y="526">0.30</text><text x="1353" y="582.3">0.25</text><text x="1353" y="638.7">0.20</text><text x="1353" y="695">0.15</text><text x="1353" y="751.3">0.10</text><text x="1353" y="807.7">0.05</text><text x="1353" y="864">0.00</text>
</g>
<g class="tk" text-anchor="middle">
<text x="1366" y="886">1990</text><text x="1468.8" y="886">1995</text><text x="1571.5" y="886">2000</text><text x="1674.3" y="886">2005</text><text x="1777" y="886">2010</text><text x="1879.8" y="886">2015</text><text x="1962" y="886">2019</text>
</g>
<text class="ss" font-size="19" text-anchor="middle" transform="translate(1294,685) rotate(-90)" textLength="360" lengthAdjust="spacingAndGlyphs">Surface <tspan font-style="italic">SOA</tspan><tspan dy="4" font-size="13" font-style="italic">MT</tspan><tspan dy="-4"> concentrations (μg/m³)</tspan></text>
<!-- legend (f) -->
<rect x="1401.6" y="538" width="34.2" height="12.3" fill="#dcc7df"/>
<rect x="1401.6" y="567" width="34.2" height="12.3" fill="#f6a8a8"/>
<rect x="1401.6" y="596" width="34.2" height="12.3" fill="#93cdee"/>
<rect x="1401.6" y="624.7" width="34.2" height="12.3" fill="#fde497"/>
<g class="ss" font-size="18" font-style="italic">
<text x="1451" y="551">SOA<tspan dy="5" font-size="12.5">MT_O3</tspan></text>
<text x="1451" y="580">SOA<tspan dy="5" font-size="12.5">MT_NO3</tspan></text>
<text x="1451" y="608.7">SOA<tspan dy="5" font-size="12.5">MT_OH(low NOx)</tspan></text>
<text x="1451" y="637.3">SOA<tspan dy="5" font-size="12.5">MT_OH(high NOx)</tspan></text>
</g>
</svg>
</body></html>
